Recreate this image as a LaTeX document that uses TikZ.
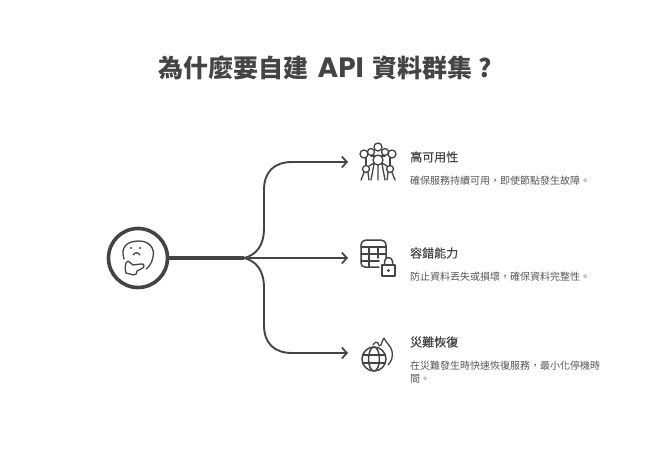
\documentclass[tikz,border=0pt]{standalone}
\usepackage{fontspec}
\usetikzlibrary{arrows.meta}
\setmainfont{Noto Sans CJK TC}
\newfontfamily\apifont{Poppins}[BoldFont=Poppins Bold]
\newfontfamily\headfont{Noto Sans CJK TC}[FakeBold=0.5]
\newcommand{\fwcomma}{\char"FF0C\relax}
\definecolor{ink}{HTML}{444444}
\definecolor{txt}{HTML}{555555}
\tikzset{
  x=1pt,y=-1pt,
  link/.style={draw=ink,line width=1.9pt,line cap=round},
  tipped/.style={link,-{Straight Barb[length=5pt,width=11pt,line width=1.7pt]}},
  icon/.style={draw=ink,line width=1.5pt,line cap=round,line join=round},
  thin icon/.style={draw=ink,line width=1.3pt,line cap=round,line join=round},
  headline/.style={anchor=west,inner sep=0pt,text=ink,font=\headfont\fontsize{12}{14}\selectfont},
  bodytext/.style={anchor=north west,inner sep=0pt,align=left,text=txt,font=\fontsize{10}{13}\selectfont},
}
\begin{document}
\begin{tikzpicture}
\useasboundingbox (0,0) rectangle (654,456);
\fill[white] (0,0) rectangle (654,456);

\node[anchor=center,inner sep=0pt,text=ink,font=\fontsize{25}{30}\selectfont\bfseries] (title) at (325.5,68) {為什麼要自建\hspace{9pt}{\apifont\fontsize{28}{30}\selectfont API}\hspace{9pt}資料群集\hspace{6pt}?};

% hub
\node[circle,draw=ink,line width=3.6pt,minimum size=59pt,inner sep=0pt] (hub) at (138,258) {};
\coordinate (fork) at (244,258);
\coordinate (a1) at (348,162);
\coordinate (a2) at (348,258);
\coordinate (a3) at (348,353);

% connectors
\draw[draw=ink,line width=3.6pt] (hub.east) -- (fork);
\draw[tipped] (fork) -- (a2);
\draw[tipped] (fork) .. controls (256,255) and (264,246) .. (264,228) -- (264,190) .. controls (264,172) and (274,162) .. (292,162) -- (a1);
\draw[tipped] (fork) .. controls (256,261) and (264,270) .. (264,288) -- (264,325) .. controls (264,343) and (274,353) .. (292,353) -- (a3);

% thinking face
\draw[thin icon] (124,259) .. controls (120,246) and (128,241) .. (139,241) .. controls (150,241) and (155,249) .. (153,257) .. controls (152,263) and (149,267) .. (146,269);
\fill[ink] (131,248) circle (1.2pt) (140,248) circle (1.2pt);
\draw[thin icon] (133,255) .. controls (135,252) and (138,252) .. (140,255);
\draw[thin icon] (128,261) -- (133,265) -- (141,264) .. controls (145,263) and (145,268) .. (141,269) -- (137,271) .. controls (137,276) and (133,275) .. (130,274) -- (126,273) .. controls (125,270) and (125,266) .. (126,263) -- cycle;

% icon 1
\begin{scope}[thin icon]
\draw (378,147) circle (4pt);
\draw (364,154) circle (4pt);
\draw (392,154) circle (4pt);
\draw (371,152) circle (3.5pt);
\draw (385,152) circle (3.5pt);
\draw (378,160) circle (5pt);
\draw (366,169) circle (3.5pt);
\draw (390,169) circle (3.5pt);
\draw (366,158) -- (366,165.5) (390,158) -- (390,165.5);
\draw (371,156) -- (375,156) (385,156) -- (381,156);
\draw (374,164) -- (371,180) (378,165) -- (378,180) (382,164) -- (385,180);
\draw (364,172.5) -- (361,180) (368,172.5) -- (369,180);
\draw (392,172.5) -- (395,180) (388,172.5) -- (387,180);
\draw (369,166) -- (374,163) (387,166) -- (382,163);
\end{scope}

% icon 2
\begin{scope}[icon]
\draw (379,267) -- (365,267) .. controls (362,267) and (361,265) .. (361,263) -- (361,246) .. controls (361,242) and (363,240) .. (366,240) -- (381,240) .. controls (384,240) and (386,242) .. (386,246) -- (386,258);
\draw (361,247) -- (386,247) (361,254) -- (386,254) (361,261) -- (379,261);
\draw (369,247) -- (369,267) (378,247) -- (378,258);
\draw[fill=white] (382,265) rectangle (395,276);
\draw (384.5,265) -- (384.5,261.5) arc[start angle=180,end angle=0,radius=4pt] -- (392.5,265);
\fill[ink] (388.5,270.5) circle (1.6pt);
\end{scope}

% icon 3
\begin{scope}[icon]
\draw (374,359) circle (12pt);
\draw (374,359) ellipse (5.5pt and 12pt);
\draw (362.5,355) -- (385.5,355) (362.5,363) -- (385.5,363);
\draw[thin icon] (373,345) .. controls (375,342) and (377,341) .. (378,343) .. controls (379,346) and (380,347) .. (381,345) .. controls (382,342) and (383,339) .. (384,338) .. controls (386,343) and (391,346) .. (392,351) .. controls (393,356) and (392,361) .. (388,365);
\end{scope}

% labels
\node[headline] (h1) at (410,157) {高可用性};
\node[bodytext] (b1) at (410,175.5) {確保服務持續可用\fwcomma 即使節點發生故障。};
\node[headline] (h2) at (410,253) {容錯能力};
\node[bodytext] (b2) at (410,271.5) {防止資料丟失或損壞\fwcomma 確保資料完整性。};
\node[headline] (h3) at (410,342) {災難恢復};
\node[bodytext] (b3) at (410,361) {在災難發生時快速恢復服務\fwcomma 最小化停機時\\間。};
\end{tikzpicture}
\end{document}
